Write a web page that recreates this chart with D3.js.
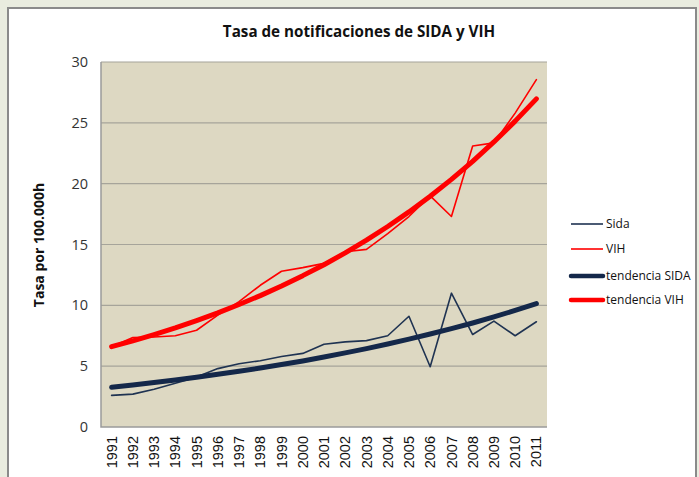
<!DOCTYPE html>
<html>
<head>
<meta charset="utf-8">
<script src="https://cdn.jsdelivr.net/npm/d3@7"></script>
<style>
  html, body { margin: 0; padding: 0; background: #e9ecdf; }
  svg { display: block; }
</style>
</head>
<body>
<svg id="chart" width="699" height="477"></svg>
<script>
// data
const years = d3.range(1991, 2012).map(String);
const sida = [2.6, 2.7, 3.1, 3.6, 4.1, 4.8, 5.2, 5.45, 5.8, 6.05, 6.8, 7.0, 7.1, 7.5, 9.1, 4.95, 11.0, 7.6, 8.7, 7.5, 8.65];
const vih = [6.6, 7.35, 7.4, 7.5, 7.95, 9.2, 10.3, 11.65, 12.8, 13.1, 13.45, 14.4, 14.6, 15.9, 17.3, 19.0, 17.3, 23.1, 23.35, 25.8, 28.55];
const tendSida = [3.26, 3.45, 3.65, 3.86, 4.09, 4.33, 4.58, 4.85, 5.13, 5.43, 5.75, 6.09, 6.44, 6.82, 7.22, 7.64, 8.08, 8.55, 9.05, 9.58, 10.14];
const tendVih = [6.6, 7.08, 7.6, 8.15, 8.75, 9.38, 10.07, 10.8, 11.59, 12.44, 13.34, 14.31, 15.36, 16.48, 17.68, 18.97, 20.35, 21.84, 23.43, 25.14, 26.97];
const yTicks = [0, 5, 10, 15, 20, 25, 30];

const series = [
  {name: "Sida", values: sida, color: "#1f3352", width: 1.6},
  {name: "VIH", values: vih, color: "#ff0000", width: 1.6},
  {name: "tendencia SIDA", values: tendSida, color: "#14284a", width: 5},
  {name: "tendencia VIH", values: tendVih, color: "#ff0000", width: 5}
];

const svg = d3.select("#chart");
const plot = {left: 101, top: 62, right: 547, bottom: 427};

// white chart box
svg.append("rect").attr("x", 8).attr("y", 8).attr("width", 688).attr("height", 480)
  .attr("fill", "#fff").attr("stroke", "#8a8a8a").attr("stroke-width", 2);

svg.append("text").attr("x", 359).attr("y", 37).attr("text-anchor", "middle")
  .attr("font-family", "Open Sans, sans-serif").attr("font-weight", "bold")
  .attr("font-size", 15.2).attr("fill", "#111").text("Tasa de notificaciones de SIDA y VIH");

const x = d3.scaleBand().domain(years).range([plot.left, plot.right]);
const y = d3.scaleLinear().domain([0, 30]).range([plot.bottom, plot.top]);

svg.append("rect").attr("x", plot.left).attr("y", plot.top)
  .attr("width", plot.right - plot.left).attr("height", plot.bottom - plot.top)
  .attr("fill", "#ddd8c2");

// gridlines
svg.append("g").selectAll("line").data(yTicks.slice(1)).join("line")
  .attr("x1", plot.left).attr("x2", plot.right)
  .attr("y1", d => y(d)).attr("y2", d => y(d))
  .attr("stroke", "#a6a49a").attr("stroke-width", 1.2);

// plot border left & bottom
svg.append("path")
  .attr("d", `M${plot.left},${plot.top}V${plot.bottom}H${plot.right}`)
  .attr("fill", "none").attr("stroke", "#9a9a9a").attr("stroke-width", 1.5);

// y axis
const yAxis = svg.append("g").attr("transform", `translate(${plot.left},0)`)
  .call(d3.axisLeft(y).tickValues(yTicks).tickSize(0).tickPadding(13));
yAxis.select(".domain").remove();
yAxis.selectAll("text").attr("font-family", "Open Sans, sans-serif").attr("font-size", 14.5).attr("fill", "#333");

// x axis
const xAxis = svg.append("g").attr("transform", `translate(0,${plot.bottom})`)
  .call(d3.axisBottom(x).tickSize(0));
xAxis.select(".domain").remove();
xAxis.selectAll("text")
  .attr("font-family", "Liberation Sans, Arial, sans-serif").attr("font-size", 14.5).attr("fill", "#111")
  .attr("transform", "rotate(-90)").attr("text-anchor", "end")
  .attr("x", -9).attr("y", 0).attr("dy", "0.35em");

svg.append("text").attr("transform", "translate(44,245) rotate(-90)")
  .attr("text-anchor", "middle").attr("font-family", "Open Sans, sans-serif")
  .attr("font-weight", "bold").attr("font-size", 14).attr("fill", "#111")
  .text("Tasa por 100.000h");

// lines
const line = d3.line().x((d, i) => x(years[i]) + x.bandwidth() / 2).y(d => y(d));
svg.append("g").selectAll("path").data(series).join("path")
  .attr("d", d => line(d.values))
  .attr("fill", "none").attr("stroke", d => d.color).attr("stroke-width", d => d.width)
  .attr("stroke-linejoin", "round").attr("stroke-linecap", "round");

// legend
const legendY = [224, 249, 276, 300];
const lg = svg.append("g").selectAll("g").data(series).join("g")
  .attr("transform", (d, i) => `translate(571,${legendY[i]})`);
lg.append("line").attr("x1", 0).attr("x2", 32)
  .attr("stroke", d => d.color).attr("stroke-width", d => d.width > 2 ? 4.5 : 1.6)
  .attr("stroke-linecap", d => d.width > 2 ? "round" : "butt");
lg.append("text").attr("x", 35).attr("dy", "0.35em")
  .attr("font-family", "Open Sans, sans-serif").attr("font-size", 12).attr("fill", "#111")
  .text(d => d.name);
</script>
</body>
</html>
